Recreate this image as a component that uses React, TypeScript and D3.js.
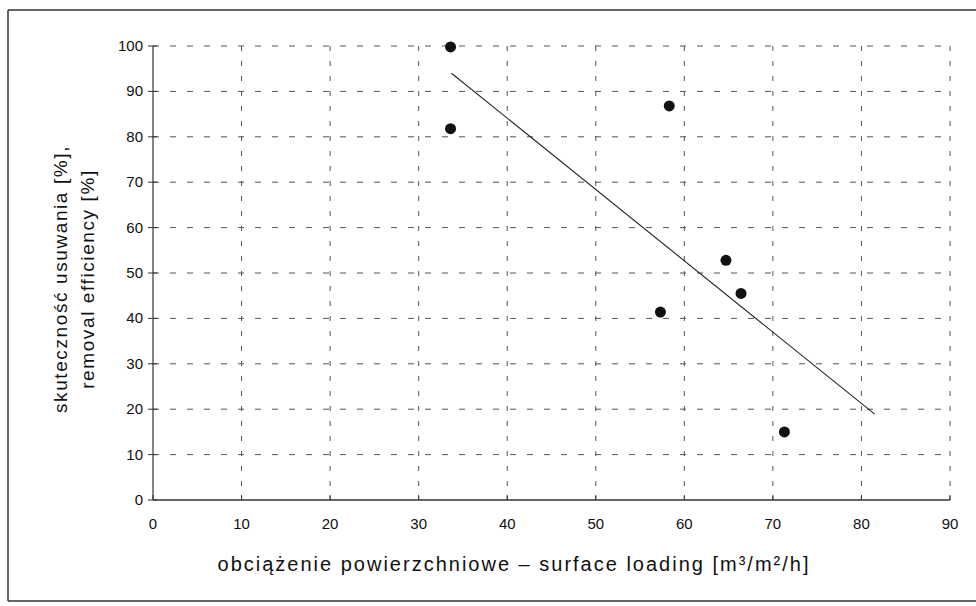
import React from "react";
import * as d3 from "d3";

// measured points: surface loading vs removal efficiency
const loading = [33.6, 33.6, 58.3, 64.7, 66.4, 57.3, 71.3];
const efficiency = [99.8, 81.8, 86.8, 52.8, 45.5, 41.4, 15.0];

// trend line end points
const trendX = [33.7, 81.5];
const trendY = [94.0, 18.9];

const xTicks = [0, 10, 20, 30, 40, 50, 60, 70, 80, 90];
const yTicks = [0, 10, 20, 30, 40, 50, 60, 70, 80, 90, 100];

const W = 976;
const H = 606;
const left = 153;
const right = 950;
const top = 46;
const bottom = 500;

export default function App() {
  const x = d3.scaleLinear().domain([0, 90]).range([left, right]);
  const y = d3.scaleLinear().domain([0, 100]).range([bottom, top]);

  const line = d3
    .line<number>()
    .x((d, i) => x(trendX[i]))
    .y((d, i) => y(trendY[i]));

  const font = "'Liberation Sans', Arial, Helvetica, sans-serif";

  return (
    <svg
      width={W}
      height={H}
      style={{ position: "absolute", left: 0, top: 0, background: "#fff" }}
    >
      {/* frame */}
      <line x1={8} y1={10} x2={W} y2={10} stroke="#333" strokeWidth={1.5} />
      <line x1={8} y1={10} x2={8} y2={601} stroke="#333" strokeWidth={1.5} />
      <line x1={8} y1={601} x2={W} y2={601} stroke="#333" strokeWidth={1.5} />

      {/* horizontal grid */}
      {yTicks
        .filter((t) => t > 0)
        .map((t) => (
          <line
            key={"gy" + t}
            x1={left}
            x2={right}
            y1={y(t)}
            y2={y(t)}
            stroke="#555"
            strokeWidth={1}
            strokeDasharray="6 11"
          />
        ))}
      {/* vertical grid */}
      {xTicks
        .filter((t) => t > 0)
        .map((t) => (
          <line
            key={"gx" + t}
            x1={x(t)}
            x2={x(t)}
            y1={top}
            y2={bottom}
            stroke="#555"
            strokeWidth={1}
            strokeDasharray="5 10"
          />
        ))}

      {/* axes */}
      <line x1={left} x2={left} y1={top} y2={bottom} stroke="#333" strokeWidth={1.2} />
      <line x1={left} x2={right} y1={bottom} y2={bottom} stroke="#333" strokeWidth={1.5} />
      {yTicks.map((t) => (
        <g key={"ty" + t}>
          <line x1={left - 5} x2={left + 4} y1={y(t)} y2={y(t)} stroke="#333" />
          <text
            x={left - 10}
            y={y(t) + 5}
            textAnchor="end"
            fontFamily={font}
            fontSize={15}
            fill="#111"
          >
            {t}
          </text>
        </g>
      ))}
      {xTicks.map((t) => (
        <g key={"tx" + t}>
          <line x1={x(t)} x2={x(t)} y1={bottom - 5} y2={bottom} stroke="#333" />
          <text
            x={x(t)}
            y={bottom + 29}
            textAnchor="middle"
            fontFamily={font}
            fontSize={15}
            fill="#111"
          >
            {t}
          </text>
        </g>
      ))}

      {/* trend line */}
      <path d={line(trendX) || ""} fill="none" stroke="#222" strokeWidth={1.1} />

      {/* points */}
      {loading.map((v, i) => (
        <circle key={i} cx={x(v)} cy={y(efficiency[i])} r={5.5} fill="#111" />
      ))}

      {/* axis titles */}
      <text
        x={514}
        y={571}
        textAnchor="middle"
        fontFamily={font}
        fontSize={20}
        letterSpacing={2}
        fill="#111"
      >
        obciążenie powierzchniowe – surface loading [m³/m²/h]
      </text>
      <g transform="translate(67,279) rotate(-90)">
        <text textAnchor="middle" fontFamily={font} fontSize={19} letterSpacing={1.6} fill="#111">
          skuteczność usuwania [%],
        </text>
        <text y={27} textAnchor="middle" fontFamily={font} fontSize={19} letterSpacing={1.6} fill="#111">
          removal efficiency [%]
        </text>
      </g>
    </svg>
  );
}
